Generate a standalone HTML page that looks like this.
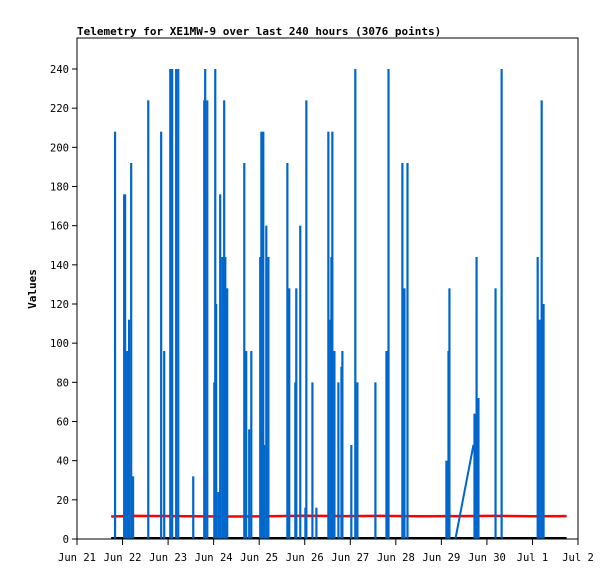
<!DOCTYPE html>
<html><head><meta charset="utf-8"><style>
html,body{margin:0;padding:0;background:#fff;}
svg{display:block;font-family:"DejaVu Sans Mono","Liberation Mono",monospace;}
</style></head><body>
<svg id="chart" width="615" height="579" viewBox="0 0 615 579">
<rect x="0" y="0" width="615" height="579" fill="#fff"/>
<text x="77" y="35" font-size="11" font-weight="bold" fill="#000">Telemetry for XE1MW-9 over last 240 hours (3076 points)</text>
<text transform="translate(36,289) rotate(-90)" text-anchor="middle" font-size="11" font-weight="bold" fill="#000">Values</text>
<g id="grid"></g>
<g id="marks"></g>
<rect x="77" y="38" width="501" height="501" fill="none" stroke="#000" stroke-width="1"/>
<g id="axes"></g>
</svg>
<script>
const spikeHours=[20.0,24.8,25.3,26.4,27.4,28.5,29.5,37.5,44.3,45.9,49.1,50.1,52.2,53.3,61.2,67.0,67.5,68.6,72.3,72.8,73.3,74.4,75.4,76.5,77.5,78.1,79.1,88.1,89.1,90.7,91.8,96.5,97.1,98.1,98.6,99.7,100.8,110.8,111.8,115.0,115.5,117.6,120.3,120.8,124.0,126.1,132.4,133.5,134.0,134.5,135.6,137.7,139.3,139.8,144.5,146.6,147.7,157.2,163.0,164.1,171.4,172.5,174.1,194.6,195.7,196.2,209.4,210.5,211.5,220.5,223.7,242.7,243.7,244.8,245.8];
const spikeValues=[208,176,176,96,112,192,32,224,208,96,240,240,240,240,32,224,240,224,80,240,120,24,176,144,224,144,128,192,96,56,96,144,208,208,48,160,144,192,128,80,128,160,16,224,80,16,208,112,144,208,96,80,88,96,48,240,80,80,96,240,192,128,192,40,96,128,64,144,72,128,240,144,112,224,120];
const rampHours=[199.4,208.9];
const rampValues=[0,48];
const redHours=[18,30,60,80,100,120,140,160,180,200,220,240,258];
const redValues=[11.5,11.8,11.6,11.5,11.6,11.9,11.7,11.8,11.6,11.7,11.8,11.6,11.7];
const baseHours=[18,258];
const baseValues=[0,0];
const yTicks=[0,20,40,60,80,100,120,140,160,180,200,220,240];
const xTickLabels=["Jun 21","Jun 22","Jun 23","Jun 24","Jun 25","Jun 26","Jun 27","Jun 28","Jun 29","Jun 30","Jul 1","Jul 2"];

const X0=77,X1=578,Y0=539,YTOP=69;
function xs(h){return X0+h/264*(X1-X0);}
function ys(v){return Y0-v/240*(Y0-YTOP);}
const NS="http://www.w3.org/2000/svg";
function mk(tag,attrs,parent){const e=document.createElementNS(NS,tag);for(const k in attrs)e.setAttribute(k,attrs[k]);parent.appendChild(e);return e;}
const axes=document.getElementById('axes'),marks=document.getElementById('marks');

yTicks.forEach(v=>{
  const t=mk('line',{x1:72,x2:77,y1:ys(v),y2:ys(v),stroke:'#000'},axes);
  
  
  const l=mk('text',{x:69,y:ys(v)+4,'text-anchor':'end','font-size':'10.5',fill:'#000'},axes);
  l.textContent=v;
  
  
});
xTickLabels.forEach((s,i)=>{
  const x=xs(i*24);
  const t=mk('line',{x1:x,x2:x,y1:539,y2:545,stroke:'#000'},axes);
  
  
  const l=mk('text',{x:x,y:561,'text-anchor':'middle','font-size':'10.5',fill:'#000'},axes);
  l.textContent=s;
  
  
});
// black baseline
const bl=mk('line',{x1:xs(baseHours[0]),x2:xs(baseHours[1]),y1:ys(baseValues[0])-1,y2:ys(baseValues[1])-1,stroke:'#000','stroke-width':2},marks);


// red series
const rp=mk('polyline',{points:redHours.map((h,i)=>xs(h)+','+ys(redValues[i])).join(' '),fill:'none',stroke:'#ff0000','stroke-width':2.5},marks);


// blue spikes
spikeHours.forEach((h,i)=>{
  const x=xs(h),y=ys(spikeValues[i]);
  const r=mk('rect',{x:x-1,y:y,width:2.2,height:Y0-y,fill:'#0066cc'},marks);
  
  
});
const rl=mk('line',{x1:xs(rampHours[0]),y1:ys(rampValues[0]),x2:xs(rampHours[1]),y2:ys(rampValues[1]),stroke:'#0066cc','stroke-width':2},marks);


</script>
</body></html>
